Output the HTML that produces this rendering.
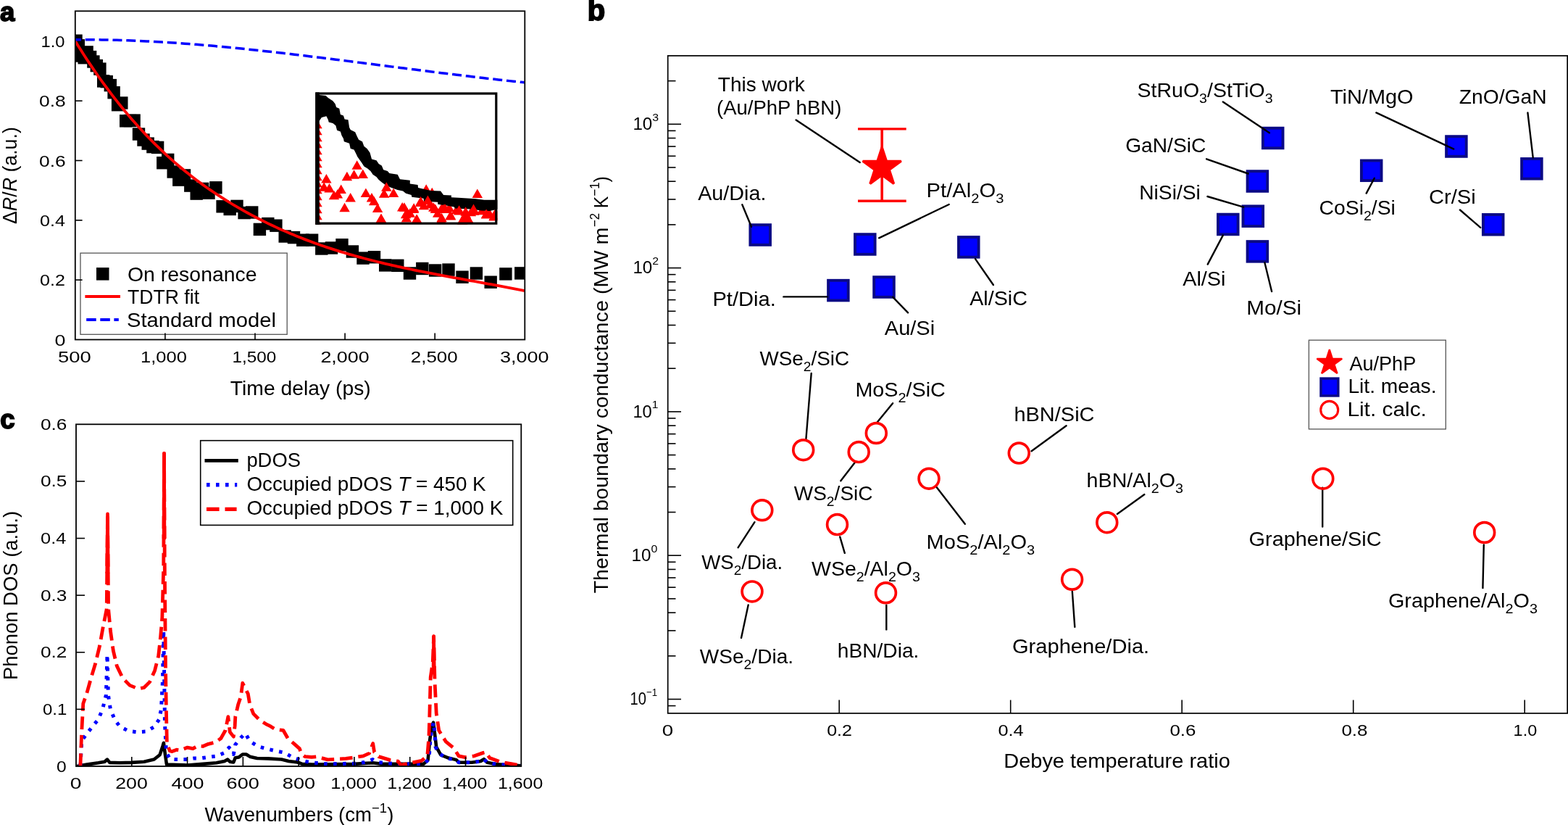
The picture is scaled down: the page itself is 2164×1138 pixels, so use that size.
<!DOCTYPE html>
<html><head><meta charset="utf-8"><title>Figure</title>
<style>html,body{margin:0;padding:0;background:#fff;}svg{display:block;}</style></head>
<body>
<svg width="2164" height="1138" viewBox="0 0 2164 1138" font-family='"Liberation Sans", Arial, sans-serif'>
<rect x="0" y="0" width="2164" height="1138" fill="#fff"/>
<clipPath id="clipA"><rect x="103.8" y="15.3" width="620.5" height="453.2"/></clipPath>
<g clip-path="url(#clipA)" fill="#000">
<rect x="96.3" y="47.5" width="17.4" height="17.4"/>
<rect x="99.6" y="54.1" width="17.4" height="17.4"/>
<rect x="101.8" y="68.3" width="17.4" height="17.4"/>
<rect x="107.5" y="71" width="17.4" height="17.4"/>
<rect x="111.4" y="63.2" width="17.4" height="17.4"/>
<rect x="115.9" y="69.9" width="17.4" height="17.4"/>
<rect x="120.2" y="76.3" width="17.4" height="17.4"/>
<rect x="124.6" y="81.9" width="17.4" height="17.4"/>
<rect x="129.2" y="86.4" width="17.4" height="17.4"/>
<rect x="134" y="103.2" width="17.4" height="17.4"/>
<rect x="138.5" y="103.9" width="17.4" height="17.4"/>
<rect x="143.6" y="108.9" width="17.4" height="17.4"/>
<rect x="148.4" y="119" width="17.4" height="17.4"/>
<rect x="153.9" y="136" width="17.4" height="17.4"/>
<rect x="159.1" y="133.3" width="17.4" height="17.4"/>
<rect x="165" y="158.1" width="17.4" height="17.4"/>
<rect x="176.4" y="157.4" width="17.4" height="17.4"/>
<rect x="170.8" y="157.8" width="17.4" height="17.4"/>
<rect x="182.8" y="176.3" width="17.4" height="17.4"/>
<rect x="189.3" y="184.3" width="17.4" height="17.4"/>
<rect x="195.5" y="189.4" width="17.4" height="17.4"/>
<rect x="202.2" y="193.9" width="17.4" height="17.4"/>
<rect x="208.9" y="194.7" width="17.4" height="17.4"/>
<rect x="216.1" y="216" width="17.4" height="17.4"/>
<rect x="223" y="211.7" width="17.4" height="17.4"/>
<rect x="230.5" y="228.3" width="17.4" height="17.4"/>
<rect x="238.1" y="239.4" width="17.4" height="17.4"/>
<rect x="245.8" y="233.2" width="17.4" height="17.4"/>
<rect x="254.1" y="247.4" width="17.4" height="17.4"/>
<rect x="262.5" y="258.4" width="17.4" height="17.4"/>
<rect x="270.9" y="251.7" width="17.4" height="17.4"/>
<rect x="279.3" y="257.5" width="17.4" height="17.4"/>
<rect x="289.2" y="250.1" width="17.4" height="17.4"/>
<rect x="298.4" y="276.1" width="17.4" height="17.4"/>
<rect x="308.5" y="279.8" width="17.4" height="17.4"/>
<rect x="318.3" y="275.7" width="17.4" height="17.4"/>
<rect x="328.4" y="284.9" width="17.4" height="17.4"/>
<rect x="339" y="284.3" width="17.4" height="17.4"/>
<rect x="349.7" y="307.7" width="17.4" height="17.4"/>
<rect x="361.1" y="299.9" width="17.4" height="17.4"/>
<rect x="372.2" y="302.5" width="17.4" height="17.4"/>
<rect x="384.5" y="317.3" width="17.4" height="17.4"/>
<rect x="396.8" y="318.9" width="17.4" height="17.4"/>
<rect x="409.1" y="322.5" width="17.4" height="17.4"/>
<rect x="421.9" y="322.5" width="17.4" height="17.4"/>
<rect x="435.1" y="334.3" width="17.4" height="17.4"/>
<rect x="448.8" y="333.3" width="17.4" height="17.4"/>
<rect x="463.3" y="329.1" width="17.4" height="17.4"/>
<rect x="477.7" y="338.3" width="17.4" height="17.4"/>
<rect x="492.3" y="347.4" width="17.4" height="17.4"/>
<rect x="507.8" y="346" width="17.4" height="17.4"/>
<rect x="523" y="357.2" width="17.4" height="17.4"/>
<rect x="540.1" y="357.6" width="17.4" height="17.4"/>
<rect x="556.8" y="368.3" width="17.4" height="17.4"/>
<rect x="574.1" y="361.8" width="17.4" height="17.4"/>
<rect x="591.9" y="364.3" width="17.4" height="17.4"/>
<rect x="610.3" y="363.4" width="17.4" height="17.4"/>
<rect x="629.3" y="373.5" width="17.4" height="17.4"/>
<rect x="648.7" y="368.3" width="17.4" height="17.4"/>
<rect x="668.5" y="380.5" width="17.4" height="17.4"/>
<rect x="689.2" y="369.2" width="17.4" height="17.4"/>
<rect x="710.1" y="368.2" width="17.4" height="17.4"/>
<path d="M103.8 56.6 L107.7 62.91 L111.61 69.11 L115.51 75.22 L119.41 81.22 L123.31 87.12 L127.22 92.92 L131.12 98.62 L135.02 104.23 L138.92 109.74 L142.83 115.16 L146.73 120.48 L150.63 125.71 L154.53 130.85 L158.44 135.9 L162.34 140.87 L166.24 145.74 L170.14 150.53 L174.05 155.24 L177.95 159.86 L181.85 164.39 L185.75 168.85 L189.66 173.23 L193.56 177.52 L197.46 181.74 L201.36 185.88 L205.27 189.95 L209.17 193.94 L213.07 197.86 L216.97 201.71 L220.88 205.48 L224.78 209.19 L228.68 212.82 L232.58 216.39 L236.49 219.9 L240.39 223.34 L244.29 226.71 L248.19 230.02 L252.1 233.27 L256 236.46 L259.9 239.59 L263.8 242.67 L267.71 245.68 L271.61 248.64 L275.51 251.55 L279.41 254.4 L283.32 257.2 L287.22 259.95 L291.12 262.65 L295.02 265.3 L298.93 267.9 L302.83 270.46 L306.73 272.97 L310.63 275.44 L314.54 277.87 L318.44 280.25 L322.34 282.59 L326.24 284.9 L330.15 287.16 L334.05 289.39 L337.95 291.58 L341.85 293.74 L345.76 295.86 L349.66 297.94 L353.56 299.99 L357.46 302 L361.37 303.98 L365.27 305.92 L369.17 307.84 L373.07 309.71 L376.98 311.56 L380.88 313.38 L384.78 315.16 L388.68 316.91 L392.59 318.63 L396.49 320.32 L400.39 321.98 L404.29 323.62 L408.2 325.22 L412.1 326.79 L416 328.34 L419.9 329.86 L423.81 331.35 L427.71 332.82 L431.61 334.26 L435.51 335.67 L439.42 337.06 L443.32 338.43 L447.22 339.77 L451.12 341.08 L455.03 342.38 L458.93 343.65 L462.83 344.89 L466.73 346.12 L470.64 347.32 L474.54 348.51 L478.44 349.67 L482.34 350.81 L486.25 351.93 L490.15 353.04 L494.05 354.12 L497.95 355.19 L501.86 356.23 L505.76 357.26 L509.66 358.28 L513.56 359.28 L517.47 360.26 L521.37 361.22 L525.27 362.17 L529.17 363.11 L533.08 364.03 L536.98 364.94 L540.88 365.83 L544.78 366.71 L548.69 367.58 L552.59 368.44 L556.49 369.28 L560.39 370.12 L564.3 370.94 L568.2 371.75 L572.1 372.56 L576 373.35 L579.91 374.14 L583.81 374.91 L587.71 375.68 L591.61 376.44 L595.52 377.2 L599.42 377.95 L603.32 378.69 L607.22 379.43 L611.13 380.16 L615.03 380.88 L618.93 381.61 L622.83 382.33 L626.74 383.04 L630.64 383.75 L634.54 384.46 L638.44 385.17 L642.35 385.88 L646.25 386.58 L650.15 387.29 L654.05 387.99 L657.96 388.7 L661.86 389.4 L665.76 390.11 L669.66 390.82 L673.57 391.53 L677.47 392.24 L681.37 392.96 L685.27 393.68 L689.18 394.4 L693.08 395.13 L696.98 395.86 L700.88 396.6 L704.79 397.34 L708.69 398.09 L712.59 398.85 L716.49 399.61 L720.4 400.38 L724.3 401.16" fill="none" stroke="#ff0000" stroke-width="3.8"/>
<path d="M103.8 54.8 L109.01 54.76 L114.23 54.74 L119.44 54.73 L124.66 54.75 L129.87 54.78 L135.09 54.83 L140.3 54.89 L145.51 54.98 L150.73 55.08 L155.94 55.19 L161.16 55.32 L166.37 55.47 L171.59 55.63 L176.8 55.81 L182.01 56 L187.23 56.21 L192.44 56.44 L197.66 56.67 L202.87 56.92 L208.09 57.19 L213.3 57.47 L218.51 57.76 L223.73 58.06 L228.94 58.38 L234.16 58.71 L239.37 59.05 L244.59 59.41 L249.8 59.78 L255.01 60.16 L260.23 60.55 L265.44 60.95 L270.66 61.36 L275.87 61.78 L281.09 62.22 L286.3 62.66 L291.51 63.11 L296.73 63.58 L301.94 64.05 L307.16 64.53 L312.37 65.03 L317.59 65.53 L322.8 66.03 L328.01 66.55 L333.23 67.08 L338.44 67.61 L343.66 68.15 L348.87 68.7 L354.09 69.26 L359.3 69.82 L364.51 70.39 L369.73 70.96 L374.94 71.55 L380.16 72.13 L385.37 72.73 L390.59 73.33 L395.8 73.93 L401.01 74.54 L406.23 75.16 L411.44 75.77 L416.66 76.4 L421.87 77.02 L427.09 77.65 L432.3 78.29 L437.51 78.93 L442.73 79.57 L447.94 80.21 L453.16 80.86 L458.37 81.51 L463.59 82.16 L468.8 82.82 L474.01 83.47 L479.23 84.13 L484.44 84.79 L489.66 85.45 L494.87 86.12 L500.09 86.78 L505.3 87.45 L510.51 88.11 L515.73 88.78 L520.94 89.45 L526.16 90.11 L531.37 90.78 L536.59 91.45 L541.8 92.12 L547.01 92.78 L552.23 93.45 L557.44 94.11 L562.66 94.78 L567.87 95.44 L573.09 96.1 L578.3 96.76 L583.51 97.42 L588.73 98.08 L593.94 98.73 L599.16 99.38 L604.37 100.03 L609.59 100.68 L614.8 101.32 L620.01 101.96 L625.23 102.6 L630.44 103.23 L635.66 103.86 L640.87 104.49 L646.09 105.11 L651.3 105.73 L656.51 106.34 L661.73 106.95 L666.94 107.55 L672.16 108.15 L677.37 108.74 L682.59 109.33 L687.8 109.91 L693.01 110.49 L698.23 111.06 L703.44 111.63 L708.66 112.19 L713.87 112.74 L719.09 113.28 L724.3 113.82" fill="none" stroke="#0000ff" stroke-width="3.5" stroke-dasharray="13 5.85" stroke-dashoffset="4.9"/>
</g>
<clipPath id="clipI"><rect x="435.5" y="127.4" width="250.9" height="182.4"/></clipPath>
<g clip-path="url(#clipI)">
<path d="M588.2 254.2L581 266.7L595.4 266.7Z" fill="#ff0000"/>
<path d="M596.3 258.7L589.1 271.2L603.5 271.2Z" fill="#ff0000"/>
<path d="M620 279.7L612.8 292.2L627.2 292.2Z" fill="#ff0000"/>
<path d="M665 283.7L657.8 296.2L672.2 296.2Z" fill="#ff0000"/>
<path d="M675 286.7L667.8 299.2L682.2 299.2Z" fill="#ff0000"/>
<path d="M610 279.7L602.8 292.2L617.2 292.2Z" fill="#ff0000"/>
<path d="M630 282.7L622.8 295.2L637.2 295.2Z" fill="#ff0000"/>
<path d="M650 285.7L642.8 298.2L657.2 298.2Z" fill="#ff0000"/>
<path d="M684 286.7L676.8 299.2L691.2 299.2Z" fill="#ff0000"/>
<path d="M594 274.7L586.8 287.2L601.2 287.2Z" fill="#ff0000"/>
<path d="M585 276.7L577.8 289.2L592.2 289.2Z" fill="#ff0000"/>
<path d="M436 129 L440.7 131.1 L449.6 131.9 L452.9 135.1 L459.4 139.2 L462.6 143.2 L464.2 148.1 L468.3 149.7 L469.9 157.9 L474 159.5 L475.6 164.4 L480.5 165.2 L482.1 175.7 L483.7 179 L490.2 182.2 L492.7 187.9 L495.1 192.8 L500 195.2 L502.4 201.7 L506.5 205 L510.6 210.7 L513 219.6 L519.5 221.2 L522.7 226.1 L526.8 228.6 L529.2 234.2 L534.9 235.9 L537.4 239.1 L548.7 240.7 L552 247.2 L565.8 248.7 L565.8 253.6 L576.6 255.1 L577.1 259 L594.4 263 L608.1 263.5 L612.1 268.9 L622.9 269.4 L622.9 272.3 L632.7 272.8 L656.3 274.3 L668.2 275.8 L687 275.8 L687 288.6 L676 291 L664.2 290.5 L650.4 288.6 L627.8 287.6 L626.8 285.6 L616 283.6 L604.2 281.7 L604.2 278.7 L585 277.7 L584.5 273.8 L568.3 271.8 L567.8 268.9 L560.1 266.7 L556.1 263.5 L548.7 261.9 L539 258.6 L532.5 255.4 L527.6 252.1 L522.7 248.1 L519.5 244 L514.6 240.7 L511.4 235.9 L507.3 232.6 L502.4 229.4 L499.2 224.5 L493.5 216.4 L491.1 211.5 L488.6 206.6 L483.7 205 L482.1 197.7 L474.8 195.2 L474 191.2 L471.6 187.1 L469.9 181.4 L465.1 179.8 L463.4 173.3 L459.4 170.1 L453.7 168.4 L452.9 165.2 L450.4 160.3 L443.9 161.9 L440.7 166.8 L436 168Z" fill="#000"/>
<path d="M450.4 239.9L443.2 252.4L457.6 252.4Z" fill="#ff0000"/>
<path d="M447.2 251.3L440 263.8L454.4 263.8Z" fill="#ff0000"/>
<path d="M454.5 252.9L447.3 265.4L461.7 265.4Z" fill="#ff0000"/>
<path d="M461 262.7L453.8 275.2L468.2 275.2Z" fill="#ff0000"/>
<path d="M470.7 254.6L463.5 267.1L477.9 267.1Z" fill="#ff0000"/>
<path d="M465.9 261.1L458.7 273.6L473.1 273.6Z" fill="#ff0000"/>
<path d="M483.7 265.9L476.5 278.4L490.9 278.4Z" fill="#ff0000"/>
<path d="M475.6 279.8L468.4 292.3L482.8 292.3Z" fill="#ff0000"/>
<path d="M478.9 236.7L471.7 249.2L486.1 249.2Z" fill="#ff0000"/>
<path d="M488.6 234.3L481.4 246.8L495.8 246.8Z" fill="#ff0000"/>
<path d="M492.7 221.3L485.5 233.8L499.9 233.8Z" fill="#ff0000"/>
<path d="M500.8 233.4L493.6 245.9L508 245.9Z" fill="#ff0000"/>
<path d="M504.9 259.4L497.7 271.9L512.1 271.9Z" fill="#ff0000"/>
<path d="M513 265.9L505.8 278.4L520.2 278.4Z" fill="#ff0000"/>
<path d="M516.2 270.8L509 283.3L523.4 283.3Z" fill="#ff0000"/>
<path d="M521.1 280.6L513.9 293.1L528.3 293.1Z" fill="#ff0000"/>
<path d="M526 294.4L518.8 306.9L533.2 306.9Z" fill="#ff0000"/>
<path d="M530.1 260.3L522.9 272.8L537.3 272.8Z" fill="#ff0000"/>
<path d="M533.3 251.3L526.1 263.8L540.5 263.8Z" fill="#ff0000"/>
<path d="M543.1 259.4L535.9 271.9L550.3 271.9Z" fill="#ff0000"/>
<path d="M555.2 278.9L548 291.4L562.4 291.4Z" fill="#ff0000"/>
<path d="M560.1 288.7L552.9 301.2L567.3 301.2Z" fill="#ff0000"/>
<path d="M562.1 286.7L554.9 299.2L569.3 299.2Z" fill="#ff0000"/>
<path d="M570.9 281.4L563.7 293.9L578.1 293.9Z" fill="#ff0000"/>
<path d="M575.3 295.5L568.1 308L582.5 308Z" fill="#ff0000"/>
<path d="M580.6 270.9L573.4 283.4L587.8 283.4Z" fill="#ff0000"/>
<path d="M600.8 281.4L593.6 293.9L608 293.9Z" fill="#ff0000"/>
<path d="M609.6 293.7L602.4 306.2L616.8 306.2Z" fill="#ff0000"/>
<path d="M614.8 281.4L607.6 293.9L622 293.9Z" fill="#ff0000"/>
<path d="M621.9 290.2L614.7 302.7L629.1 302.7Z" fill="#ff0000"/>
<path d="M633.3 284.1L626.1 296.6L640.5 296.6Z" fill="#ff0000"/>
<path d="M642.9 288.5L635.7 301L650.1 301Z" fill="#ff0000"/>
<path d="M646.5 295.5L639.3 308L653.7 308Z" fill="#ff0000"/>
<path d="M658.8 260.6L651.6 273.1L666 273.1Z" fill="#ff0000"/>
<path d="M653.5 281.4L646.3 293.9L660.7 293.9Z" fill="#ff0000"/>
<path d="M671.1 288.5L663.9 301L678.3 301Z" fill="#ff0000"/>
<path d="M681.6 292L674.4 304.5L688.8 304.5Z" fill="#ff0000"/>
<path d="M637.7 297.3L630.5 309.8L644.9 309.8Z" fill="#ff0000"/>
<path d="M558 279.3L550.8 291.8L565.2 291.8Z" fill="#ff0000"/>
<path d="M571.2 280.3L564 292.8L578.4 292.8Z" fill="#ff0000"/>
<path d="M580.6 272.4L573.4 284.9L587.8 284.9Z" fill="#ff0000"/>
<path d="M598.3 279.3L591.1 291.8L605.5 291.8Z" fill="#ff0000"/>
<path d="M604.2 287.2L597 299.7L611.4 299.7Z" fill="#ff0000"/>
<path d="M613 281.3L605.8 293.8L620.2 293.8Z" fill="#ff0000"/>
<path d="M621.9 291.1L614.7 303.6L629.1 303.6Z" fill="#ff0000"/>
<path d="M633.7 283.2L626.5 295.7L640.9 295.7Z" fill="#ff0000"/>
<path d="M642.6 285.2L635.4 297.7L649.8 297.7Z" fill="#ff0000"/>
<path d="M643.6 295L636.4 307.5L650.8 307.5Z" fill="#ff0000"/>
<path d="M654.4 284.2L647.2 296.7L661.6 296.7Z" fill="#ff0000"/>
<path d="M671.1 289.1L663.9 301.6L678.3 301.6Z" fill="#ff0000"/>
<path d="M681.9 291.1L674.7 303.6L689.1 303.6Z" fill="#ff0000"/>
<path d="M560.9 294L553.7 306.5L568.1 306.5Z" fill="#ff0000"/>
<path d="M574.7 296L567.5 308.5L581.9 308.5Z" fill="#ff0000"/>
<path d="M609.1 296L601.9 308.5L616.3 308.5Z" fill="#ff0000"/>
<path d="M638.6 297L631.4 309.5L645.8 309.5Z" fill="#ff0000"/>
<path d="M565.8 287.2L558.6 299.7L573 299.7Z" fill="#ff0000"/>
<path d="M590.4 269.4L583.2 281.9L597.6 281.9Z" fill="#ff0000"/>
<path d="M437.5 164.7L430.3 177.2L444.7 177.2Z" fill="#ff0000"/>
<path d="M437.5 173.7L430.3 186.2L444.7 186.2Z" fill="#ff0000"/>
<path d="M437.5 182.7L430.3 195.2L444.7 195.2Z" fill="#ff0000"/>
<path d="M437.5 191.7L430.3 204.2L444.7 204.2Z" fill="#ff0000"/>
<path d="M437.5 200.7L430.3 213.2L444.7 213.2Z" fill="#ff0000"/>
<path d="M437.5 209.7L430.3 222.2L444.7 222.2Z" fill="#ff0000"/>
<path d="M437.5 218.7L430.3 231.2L444.7 231.2Z" fill="#ff0000"/>
<path d="M437.5 227.7L430.3 240.2L444.7 240.2Z" fill="#ff0000"/>
<path d="M437.5 236.7L430.3 249.2L444.7 249.2Z" fill="#ff0000"/>
<path d="M437.5 245.7L430.3 258.2L444.7 258.2Z" fill="#ff0000"/>
<path d="M437.5 254.7L430.3 267.2L444.7 267.2Z" fill="#ff0000"/>
<path d="M437.5 263.7L430.3 276.2L444.7 276.2Z" fill="#ff0000"/>
<path d="M437.5 272.7L430.3 285.2L444.7 285.2Z" fill="#ff0000"/>
<path d="M437.5 281.7L430.3 294.2L444.7 294.2Z" fill="#ff0000"/>
<path d="M437.5 290.7L430.3 303.2L444.7 303.2Z" fill="#ff0000"/>
<path d="M437.5 299.7L430.3 312.2L444.7 312.2Z" fill="#ff0000"/>
</g>
<rect x="437.1" y="129" width="247.7" height="179.2" fill="none" stroke="#000" stroke-width="3.2"/>
<rect x="435.2" y="127.4" width="5.6" height="182.4" fill="#000"/>
<rect x="103.8" y="15.3" width="620.5" height="453.2" fill="none" stroke="#000" stroke-width="1.8"/>
<rect x="111" y="349.1" width="285.2" height="112.2" fill="#fff" stroke="#555" stroke-width="1.3"/>
<line x1="103.8" y1="386.16" x2="113.6" y2="386.16" stroke="#000" stroke-width="1.6"/>
<line x1="103.8" y1="303.82" x2="113.6" y2="303.82" stroke="#000" stroke-width="1.6"/>
<line x1="103.8" y1="221.48" x2="113.6" y2="221.48" stroke="#000" stroke-width="1.6"/>
<line x1="103.8" y1="139.14" x2="113.6" y2="139.14" stroke="#000" stroke-width="1.6"/>
<line x1="227.9" y1="468.5" x2="227.9" y2="459.5" stroke="#000" stroke-width="1.6"/>
<line x1="352" y1="468.5" x2="352" y2="459.5" stroke="#000" stroke-width="1.6"/>
<line x1="476.1" y1="468.5" x2="476.1" y2="459.5" stroke="#000" stroke-width="1.6"/>
<line x1="600.2" y1="468.5" x2="600.2" y2="459.5" stroke="#000" stroke-width="1.6"/>
<rect x="133" y="369.1" width="17.5" height="17.5" fill="#000"/>
<line x1="117.4" y1="409" x2="166" y2="409" stroke="#ff0000" stroke-width="3.8"/>
<line x1="119.2" y1="441" x2="163.8" y2="441" stroke="#0000ff" stroke-width="3.8" stroke-dasharray="13.5 5.6"/>
<text id="T0" x="176" y="387.6" font-size="27.6" textLength="178.6" lengthAdjust="spacingAndGlyphs">On resonance</text>
<text id="T1" x="176" y="418.6" font-size="27.6" textLength="99.09" lengthAdjust="spacingAndGlyphs">TDTR fit</text>
<text id="T2" x="175" y="451" font-size="27.6" textLength="206.03" lengthAdjust="spacingAndGlyphs">Standard model</text>
<text id="T3" x="75.6" y="476.7" font-size="22.8" textLength="14.96" lengthAdjust="spacingAndGlyphs">0</text>
<text id="T4" x="55" y="394.36" font-size="22.8" textLength="34.86" lengthAdjust="spacingAndGlyphs">0.2</text>
<text id="T5" x="55" y="312.02" font-size="22.8" textLength="34.89" lengthAdjust="spacingAndGlyphs">0.4</text>
<text id="T6" x="54" y="229.68" font-size="22.8" textLength="36.67" lengthAdjust="spacingAndGlyphs">0.6</text>
<text id="T7" x="54" y="147.34" font-size="22.8" textLength="36.67" lengthAdjust="spacingAndGlyphs">0.8</text>
<text id="T8" x="56.6" y="65" font-size="22.8" textLength="32.96" lengthAdjust="spacingAndGlyphs">1.0</text>
<text id="T9" x="80" y="500.1" font-size="22.8" textLength="45.78" lengthAdjust="spacingAndGlyphs">500</text>
<text id="T10" x="194" y="500.1" font-size="22.8" textLength="63.88" lengthAdjust="spacingAndGlyphs">1,000</text>
<text id="T11" x="320.4" y="500.1" font-size="22.8" textLength="60.8" lengthAdjust="spacingAndGlyphs">1,500</text>
<text id="T12" x="442.4" y="500.1" font-size="22.8" textLength="67.27" lengthAdjust="spacingAndGlyphs">2,000</text>
<text id="T13" x="566.8" y="500.1" font-size="22.8" textLength="64.85" lengthAdjust="spacingAndGlyphs">2,500</text>
<text id="T14" x="690" y="500.1" font-size="22.8" textLength="67.64" lengthAdjust="spacingAndGlyphs">3,000</text>
<text id="T15" x="317.8" y="545" font-size="27.6" textLength="193.98" lengthAdjust="spacingAndGlyphs">Time delay (ps)</text>
<text id="T16" x="22.8" y="309" font-size="27.6" textLength="133.86" lengthAdjust="spacingAndGlyphs" transform="rotate(-90 22.8 309)">Δ<tspan font-style="italic">R</tspan>/<tspan font-style="italic">R</tspan> (a.u.)</text>
<text x="0" y="29.3" font-size="36.5" font-weight="bold" style="stroke:#000;stroke-width:1.8">a</text>
<clipPath id="clipC"><rect x="105" y="580.3" width="614.3" height="476.7"/></clipPath>
<g clip-path="url(#clipC)" fill="none" stroke-linejoin="round">
<path d="M106.15 1057 L119.78 1054.64 L135.6 1052.28 L144.51 1050.71 L148 1047.57 L151.42 1051.89 L165.2 1052.28 L181.6 1051.89 L198.8 1050.71 L212.62 1047.57 L220.57 1041.28 L224.48 1029.48 L225.9 1024.77 L227.48 1037.35 L230.01 1054.64 L258.57 1055.43 L279.88 1053.86 L298.62 1052.28 L309.91 1049.92 L314.21 1047.57 L317.32 1050.71 L322.31 1051.5 L324.8 1045.21 L329.8 1044.42 L334.82 1040.49 L339.78 1040.49 L344.81 1043.64 L354.79 1045.99 L369.92 1046.39 L388.5 1047.57 L398.41 1049.92 L410.88 1051.5 L417.1 1053.86 L431.35 1054.64 L488.94 1053.86 L514.66 1052.28 L527.33 1053.86 L584.54 1053.86 L590.6 1048.35 L593.29 1020.05 L595.98 1001.97 L598.09 996.7 L599.86 1010.85 L602.2 1030.27 L608.38 1041.28 L618.98 1045.52 L629.69 1048.12 L633.18 1051.73 L650.96 1051.73 L663.4 1049.92 L667.85 1047.17 L672.31 1051.73 L686.51 1054.41 L719.3 1056.21" stroke="#000" stroke-width="4.6"/>
<path d="M110.91 1057 L112.79 1021.62 L119.78 1012.19 L127.73 1001.97 L135.6 992.53 L141.51 978.38 L146.39 958.73 L148 902.91 L149.38 958.73 L152.42 978.38 L158.29 992.53 L165.2 1001.97 L177.1 1008.26 L188.89 1009.83 L201.79 1009.04 L212.62 1002.75 L219.57 992.53 L222.48 978.38 L224.48 939.07 L225.67 869.89 L226.48 918.63 L227.48 998.04 L229.4 1037.35 L234.39 1046.78 L242.49 1047.57 L256.19 1047.57 L267.41 1045.99 L276.2 1045.99 L287.41 1044.42 L299.23 1042.85 L310.48 1038.13 L316.13 1031.06 L322.31 1040.49 L324.8 1027.13 L332.33 1017.69 L338.51 1011.4 L344.81 1022.41 L355.98 1029.48 L367.23 1032.63 L379.71 1035.77 L392.19 1038.13 L403.4 1044.42 L414.68 1048.35 L427.09 1051.5 L452.31 1053.86 L489.32 1053.07 L503.14 1051.5 L514.28 1047.57 L521.69 1051.5 L549.22 1053.86 L584.54 1053.86 L591.91 1047.57 L593.79 1022.41 L595.6 1007.47 L598.4 996.47 L600.16 1012.19 L601.09 1030.27 L604.81 1038.13 L614.1 1044.66 L620.01 1046.47 L629.69 1048.12 L633.18 1051.73 L650.96 1051.73 L663.4 1049.92 L667.85 1047.17 L672.31 1051.73 L686.51 1054.41 L719.3 1056.21" stroke="#0000ff" stroke-width="5" stroke-dasharray="4.6 8.4"/>
<path d="M110.91 1057 L112.79 1008.26 L114.79 970.52 L119.78 956.37 L125.69 935.14 L131.61 915.49 L137.52 891.12 L142.47 863.6 L147.23 840.02 L148.5 708.73 L149.61 840.02 L152.42 869.89 L156.29 897.41 L161.29 918.63 L169.19 935.14 L179.1 945.36 L190.93 950.08 L198.8 948.51 L206.71 940.65 L213.62 924.92 L218.61 905.27 L221.53 879.33 L223.83 851.81 L225.75 781.84 L226.52 625.39 L227.28 781.84 L228.47 918.63 L229.4 978.38 L230.39 1025.55 L234.39 1035.77 L237.5 1036.56 L243.72 1034.2 L248.71 1034.99 L258.69 1031.06 L266.22 1032.63 L273.01 1028.7 L279.88 1029.48 L287.41 1026.34 L297.39 1023.98 L304.88 1018.48 L311.1 1007.47 L314.82 988.6 L317.32 1009.83 L322.31 1016.12 L324.19 1001.18 L324.8 988.6 L328.61 972.09 L332.33 961.09 L334.82 942.22 L342.31 957.16 L344.81 972.09 L349.8 984.67 L358.51 993.32 L367.23 998.82 L373.49 1001.97 L379.71 1005.9 L391 1007.47 L397.21 1018.48 L407.2 1027.13 L413.42 1032.63 L415.91 1039.7 L420.9 1043.64 L430 1044.42 L436.61 1043.79 L452.31 1047.88 L477.3 1046.47 L501.3 1042.85 L509.59 1039.15 L514.7 1025.55 L516.58 1037.35 L522.61 1043.64 L538.27 1048.35 L549.41 1050.24 L553.13 1055.43 L564.19 1053.07 L581.7 1049.3 L589.76 1042.85 L591.91 1016.91 L592.79 989.39 L594.21 934.36 L597.28 913.13 L598.63 877.75 L600.01 939.86 L602.2 983.89 L605.69 1007.47 L615.48 1023.19 L626.12 1031.84 L633.18 1042.85 L642.09 1044.58 L654.49 1042.85 L667.01 1038.37 L670.5 1037.5 L675.8 1045.52 L690.01 1050.79 L704.21 1053.46 L719.3 1056.21" stroke="#ff0000" stroke-width="4.8" stroke-dasharray="17.6 7.9"/>
<path d="M147.69 789.7 L148.5 708.73 L149.23 789.7" stroke="#ff0000" stroke-width="4.6" stroke-linecap="round"/>
<path d="M226.06 742.53 L226.52 625.39 L226.98 742.53" stroke="#ff0000" stroke-width="4.6" stroke-linecap="round"/>
<path d="M598.09 919.42 L598.63 877.75 L599.24 919.42" stroke="#ff0000" stroke-width="4.6" stroke-linecap="round"/>
</g>
<rect x="105" y="585.3" width="614.3" height="471.7" fill="none" stroke="#000" stroke-width="1.8"/>
<line x1="105" y1="978.38" x2="117" y2="978.38" stroke="#000" stroke-width="1.6"/>
<line x1="105" y1="899.77" x2="117" y2="899.77" stroke="#000" stroke-width="1.6"/>
<line x1="105" y1="821.15" x2="117" y2="821.15" stroke="#000" stroke-width="1.6"/>
<line x1="105" y1="742.53" x2="117" y2="742.53" stroke="#000" stroke-width="1.6"/>
<line x1="105" y1="663.92" x2="117" y2="663.92" stroke="#000" stroke-width="1.6"/>
<line x1="181.79" y1="1057" x2="181.79" y2="1044" stroke="#000" stroke-width="1.6"/>
<line x1="258.57" y1="1057" x2="258.57" y2="1044" stroke="#000" stroke-width="1.6"/>
<line x1="335.36" y1="1057" x2="335.36" y2="1044" stroke="#000" stroke-width="1.6"/>
<line x1="412.15" y1="1057" x2="412.15" y2="1044" stroke="#000" stroke-width="1.6"/>
<line x1="488.94" y1="1057" x2="488.94" y2="1044" stroke="#000" stroke-width="1.6"/>
<line x1="565.73" y1="1057" x2="565.73" y2="1044" stroke="#000" stroke-width="1.6"/>
<line x1="642.51" y1="1057" x2="642.51" y2="1044" stroke="#000" stroke-width="1.6"/>
<text id="T17" x="78" y="1064.5" font-size="22.8" textLength="13.72" lengthAdjust="spacingAndGlyphs">0</text>
<text id="T18" x="59" y="985.88" font-size="22.8" textLength="33.37" lengthAdjust="spacingAndGlyphs">0.1</text>
<text id="T19" x="56" y="907.27" font-size="22.8" textLength="36.43" lengthAdjust="spacingAndGlyphs">0.2</text>
<text id="T20" x="56" y="828.65" font-size="22.8" textLength="36.43" lengthAdjust="spacingAndGlyphs">0.3</text>
<text id="T21" x="56" y="750.03" font-size="22.8" textLength="35.36" lengthAdjust="spacingAndGlyphs">0.4</text>
<text id="T22" x="56" y="671.42" font-size="22.8" textLength="36.43" lengthAdjust="spacingAndGlyphs">0.5</text>
<text id="T23" x="56" y="592.8" font-size="22.8" textLength="36.43" lengthAdjust="spacingAndGlyphs">0.6</text>
<text id="T24" x="96.8" y="1088" font-size="22.8" textLength="15.69" lengthAdjust="spacingAndGlyphs">0</text>
<text id="T25" x="159.2" y="1088" font-size="22.8" textLength="44.58" lengthAdjust="spacingAndGlyphs">200</text>
<text id="T26" x="236.4" y="1088" font-size="22.8" textLength="45" lengthAdjust="spacingAndGlyphs">400</text>
<text id="T27" x="312.6" y="1088" font-size="22.8" textLength="45.25" lengthAdjust="spacingAndGlyphs">600</text>
<text id="T28" x="389.8" y="1088" font-size="22.8" textLength="45.25" lengthAdjust="spacingAndGlyphs">800</text>
<text id="T29" x="456.2" y="1088" font-size="22.8" textLength="63.73" lengthAdjust="spacingAndGlyphs">1,000</text>
<text id="T30" x="534.6" y="1088" font-size="22.8" textLength="61.02" lengthAdjust="spacingAndGlyphs">1,200</text>
<text id="T31" x="610.2" y="1088" font-size="22.8" textLength="62.27" lengthAdjust="spacingAndGlyphs">1,400</text>
<text id="T32" x="687" y="1088" font-size="22.8" textLength="62.24" lengthAdjust="spacingAndGlyphs">1,600</text>
<text id="T33" x="282.6" y="1133.4" font-size="27.6" textLength="260.76" lengthAdjust="spacingAndGlyphs">Wavenumbers (cm<tspan dy="-12.2" font-size="18.5">−1</tspan><tspan dy="12.2">)</tspan></text>
<text id="T34" x="24" y="938" font-size="27.6" textLength="233.12" lengthAdjust="spacingAndGlyphs" transform="rotate(-90 24 938)">Phonon DOS (a.u.)</text>
<rect x="276.7" y="607.7" width="431" height="116.7" fill="#fff" stroke="#000" stroke-width="1.6"/>
<line x1="282.5" y1="635.4" x2="328.8" y2="635.4" stroke="#000" stroke-width="4.8"/>
<line x1="285" y1="668.8" x2="327.2" y2="668.8" stroke="#0000ff" stroke-width="5.4" stroke-dasharray="4.6 8.4"/>
<line x1="285" y1="702.3" x2="326.6" y2="702.3" stroke="#ff0000" stroke-width="5.2" stroke-dasharray="17.6 7.9"/>
<text id="T35" x="340.4" y="643.7" font-size="27.6" textLength="74.55" lengthAdjust="spacingAndGlyphs">pDOS</text>
<text id="T36" x="340.4" y="676.5" font-size="27.6" textLength="330.29" lengthAdjust="spacingAndGlyphs">Occupied pDOS <tspan font-style="italic">T</tspan> = 450 K</text>
<text id="T37" x="340.4" y="710.2" font-size="27.6" textLength="353.99" lengthAdjust="spacingAndGlyphs">Occupied pDOS <tspan font-style="italic">T</tspan> = 1,000 K</text>
<text x="0.2" y="590.6" font-size="36.5" font-weight="bold" style="stroke:#000;stroke-width:1.8">c</text>
<rect x="921.7" y="76.9" width="1241.5" height="907" fill="none" stroke="#000" stroke-width="1.7"/>
<line x1="921.7" y1="973.57" x2="932.5" y2="973.57" stroke="#000" stroke-width="1.6"/>
<line x1="921.7" y1="964.5" x2="940" y2="964.5" stroke="#000" stroke-width="1.6"/>
<line x1="921.7" y1="904.81" x2="932.5" y2="904.81" stroke="#000" stroke-width="1.6"/>
<line x1="921.7" y1="869.89" x2="932.5" y2="869.89" stroke="#000" stroke-width="1.6"/>
<line x1="921.7" y1="845.11" x2="932.5" y2="845.11" stroke="#000" stroke-width="1.6"/>
<line x1="921.7" y1="825.89" x2="932.5" y2="825.89" stroke="#000" stroke-width="1.6"/>
<line x1="921.7" y1="810.19" x2="932.5" y2="810.19" stroke="#000" stroke-width="1.6"/>
<line x1="921.7" y1="796.92" x2="932.5" y2="796.92" stroke="#000" stroke-width="1.6"/>
<line x1="921.7" y1="785.42" x2="932.5" y2="785.42" stroke="#000" stroke-width="1.6"/>
<line x1="921.7" y1="775.27" x2="932.5" y2="775.27" stroke="#000" stroke-width="1.6"/>
<line x1="921.7" y1="766.2" x2="940" y2="766.2" stroke="#000" stroke-width="1.6"/>
<line x1="921.7" y1="706.51" x2="932.5" y2="706.51" stroke="#000" stroke-width="1.6"/>
<line x1="921.7" y1="671.59" x2="932.5" y2="671.59" stroke="#000" stroke-width="1.6"/>
<line x1="921.7" y1="646.81" x2="932.5" y2="646.81" stroke="#000" stroke-width="1.6"/>
<line x1="921.7" y1="627.59" x2="932.5" y2="627.59" stroke="#000" stroke-width="1.6"/>
<line x1="921.7" y1="611.89" x2="932.5" y2="611.89" stroke="#000" stroke-width="1.6"/>
<line x1="921.7" y1="598.62" x2="932.5" y2="598.62" stroke="#000" stroke-width="1.6"/>
<line x1="921.7" y1="587.12" x2="932.5" y2="587.12" stroke="#000" stroke-width="1.6"/>
<line x1="921.7" y1="576.97" x2="932.5" y2="576.97" stroke="#000" stroke-width="1.6"/>
<line x1="921.7" y1="567.9" x2="940" y2="567.9" stroke="#000" stroke-width="1.6"/>
<line x1="921.7" y1="508.21" x2="932.5" y2="508.21" stroke="#000" stroke-width="1.6"/>
<line x1="921.7" y1="473.29" x2="932.5" y2="473.29" stroke="#000" stroke-width="1.6"/>
<line x1="921.7" y1="448.51" x2="932.5" y2="448.51" stroke="#000" stroke-width="1.6"/>
<line x1="921.7" y1="429.29" x2="932.5" y2="429.29" stroke="#000" stroke-width="1.6"/>
<line x1="921.7" y1="413.59" x2="932.5" y2="413.59" stroke="#000" stroke-width="1.6"/>
<line x1="921.7" y1="400.32" x2="932.5" y2="400.32" stroke="#000" stroke-width="1.6"/>
<line x1="921.7" y1="388.82" x2="932.5" y2="388.82" stroke="#000" stroke-width="1.6"/>
<line x1="921.7" y1="378.67" x2="932.5" y2="378.67" stroke="#000" stroke-width="1.6"/>
<line x1="921.7" y1="369.6" x2="940" y2="369.6" stroke="#000" stroke-width="1.6"/>
<line x1="921.7" y1="309.91" x2="932.5" y2="309.91" stroke="#000" stroke-width="1.6"/>
<line x1="921.7" y1="274.99" x2="932.5" y2="274.99" stroke="#000" stroke-width="1.6"/>
<line x1="921.7" y1="250.21" x2="932.5" y2="250.21" stroke="#000" stroke-width="1.6"/>
<line x1="921.7" y1="230.99" x2="932.5" y2="230.99" stroke="#000" stroke-width="1.6"/>
<line x1="921.7" y1="215.29" x2="932.5" y2="215.29" stroke="#000" stroke-width="1.6"/>
<line x1="921.7" y1="202.02" x2="932.5" y2="202.02" stroke="#000" stroke-width="1.6"/>
<line x1="921.7" y1="190.52" x2="932.5" y2="190.52" stroke="#000" stroke-width="1.6"/>
<line x1="921.7" y1="180.37" x2="932.5" y2="180.37" stroke="#000" stroke-width="1.6"/>
<line x1="921.7" y1="171.3" x2="940" y2="171.3" stroke="#000" stroke-width="1.6"/>
<line x1="921.7" y1="111.61" x2="932.5" y2="111.61" stroke="#000" stroke-width="1.6"/>
<line x1="1158.2" y1="983.9" x2="1158.2" y2="965.6" stroke="#000" stroke-width="1.6"/>
<line x1="1394.7" y1="983.9" x2="1394.7" y2="965.6" stroke="#000" stroke-width="1.6"/>
<line x1="1631.2" y1="983.9" x2="1631.2" y2="965.6" stroke="#000" stroke-width="1.6"/>
<line x1="1867.7" y1="983.9" x2="1867.7" y2="965.6" stroke="#000" stroke-width="1.6"/>
<line x1="2104.2" y1="983.9" x2="2104.2" y2="965.6" stroke="#000" stroke-width="1.6"/>
<text id="T38" x="869.4" y="972.3" font-size="23.2" textLength="37.61" lengthAdjust="spacingAndGlyphs">10<tspan dy="-12.3" font-size="15.2">−1</tspan></text>
<text id="T39" x="871.6" y="774" font-size="23.2" textLength="35.84" lengthAdjust="spacingAndGlyphs">10<tspan dy="-12.3" font-size="15.2">0</tspan></text>
<text id="T40" x="873.4" y="575.7" font-size="23.2" textLength="35.14" lengthAdjust="spacingAndGlyphs">10<tspan dy="-12.3" font-size="15.2">1</tspan></text>
<text id="T41" x="873.4" y="377.4" font-size="23.2" textLength="35.77" lengthAdjust="spacingAndGlyphs">10<tspan dy="-12.3" font-size="15.2">2</tspan></text>
<text id="T42" x="873.4" y="179.1" font-size="23.2" textLength="35.77" lengthAdjust="spacingAndGlyphs">10<tspan dy="-12.3" font-size="15.2">3</tspan></text>
<text id="T43" x="913.8" y="1014.8" font-size="22.8" textLength="15.43" lengthAdjust="spacingAndGlyphs">0</text>
<text id="T44" x="1141.2" y="1014.8" font-size="22.8" textLength="34.79" lengthAdjust="spacingAndGlyphs">0.2</text>
<text id="T45" x="1377.4" y="1014.8" font-size="22.8" textLength="35.24" lengthAdjust="spacingAndGlyphs">0.4</text>
<text id="T46" x="1614.4" y="1014.8" font-size="22.8" textLength="36.06" lengthAdjust="spacingAndGlyphs">0.6</text>
<text id="T47" x="1851.4" y="1014.8" font-size="22.8" textLength="36.06" lengthAdjust="spacingAndGlyphs">0.8</text>
<text id="T48" x="2088.6" y="1014.8" font-size="22.8" textLength="32.6" lengthAdjust="spacingAndGlyphs">1.0</text>
<text id="T49" x="1385.2" y="1058.6" font-size="27.6" textLength="312.67" lengthAdjust="spacingAndGlyphs">Debye temperature ratio</text>
<text id="T50" x="839.4" y="818.5" font-size="28.5" textLength="505.01" lengthAdjust="spacingAndGlyphs" transform="rotate(-90 839.4 818.5)">Thermal boundary conductance (MW m</text>
<text id="T51" x="839.4" y="313" font-size="28.5" textLength="69.69" lengthAdjust="spacingAndGlyphs" transform="rotate(-90 839.4 313)"><tspan dy="-12.8" font-size="19">−2</tspan><tspan dy="12.8"> K</tspan><tspan dy="-12.8" font-size="19">−1</tspan><tspan dy="12.8">)</tspan></text>
<text x="810.7" y="28.2" font-size="40" font-weight="bold" style="stroke:#000;stroke-width:1.8">b</text>
<line x1="1217.2" y1="177.9" x2="1217.2" y2="277.3" stroke="#ff0000" stroke-width="3.6"/>
<line x1="1184" y1="177.9" x2="1250.7" y2="177.9" stroke="#ff0000" stroke-width="3.4"/>
<line x1="1184" y1="277.3" x2="1250.7" y2="277.3" stroke="#ff0000" stroke-width="3.4"/>
<path d="M1217.2 203 L1223.46 222.28 L1243.73 222.28 L1227.34 234.19 L1233.6 253.47 L1217.2 241.56 L1200.8 253.47 L1207.06 234.19 L1190.67 222.28 L1210.94 222.28Z" fill="#ff0000" stroke="#ff0000" stroke-width="3.2" stroke-linejoin="bevel"/>
<rect x="1035.4" y="310.2" width="27.6" height="27.6" fill="#0000ff" stroke="#0b0a85" stroke-width="3.9"/>
<rect x="1180" y="323.2" width="27.6" height="27.6" fill="#0000ff" stroke="#0b0a85" stroke-width="3.9"/>
<rect x="1323" y="327.1" width="27.6" height="27.6" fill="#0000ff" stroke="#0b0a85" stroke-width="3.9"/>
<rect x="1143.1" y="386.8" width="27.6" height="27.6" fill="#0000ff" stroke="#0b0a85" stroke-width="3.9"/>
<rect x="1206.2" y="382.2" width="27.6" height="27.6" fill="#0000ff" stroke="#0b0a85" stroke-width="3.9"/>
<rect x="1742.9" y="176.7" width="27.6" height="27.6" fill="#0000ff" stroke="#0b0a85" stroke-width="3.9"/>
<rect x="1721.6" y="236.2" width="27.6" height="27.6" fill="#0000ff" stroke="#0b0a85" stroke-width="3.9"/>
<rect x="1715.5" y="284.4" width="27.6" height="27.6" fill="#0000ff" stroke="#0b0a85" stroke-width="3.9"/>
<rect x="1681" y="295.7" width="27.6" height="27.6" fill="#0000ff" stroke="#0b0a85" stroke-width="3.9"/>
<rect x="1721.6" y="333.1" width="27.6" height="27.6" fill="#0000ff" stroke="#0b0a85" stroke-width="3.9"/>
<rect x="1996.1" y="188.2" width="27.6" height="27.6" fill="#0000ff" stroke="#0b0a85" stroke-width="3.9"/>
<rect x="2100.1" y="219" width="27.6" height="27.6" fill="#0000ff" stroke="#0b0a85" stroke-width="3.9"/>
<rect x="1878.9" y="221.5" width="27.6" height="27.6" fill="#0000ff" stroke="#0b0a85" stroke-width="3.9"/>
<rect x="2046.9" y="296" width="27.6" height="27.6" fill="#0000ff" stroke="#0b0a85" stroke-width="3.9"/>
<line x1="1098.6" y1="165.5" x2="1186.7" y2="224" stroke="#000" stroke-width="2.4" stroke-linecap="round"/>
<line x1="1024.3" y1="282.3" x2="1037" y2="312.8" stroke="#000" stroke-width="2.4" stroke-linecap="round"/>
<line x1="1213.1" y1="328.3" x2="1309.7" y2="282" stroke="#000" stroke-width="2.4" stroke-linecap="round"/>
<line x1="1346" y1="357.1" x2="1370.9" y2="393" stroke="#000" stroke-width="2.4" stroke-linecap="round"/>
<line x1="1081.4" y1="409.4" x2="1141.5" y2="409.4" stroke="#000" stroke-width="2.4" stroke-linecap="round"/>
<line x1="1232.3" y1="409.8" x2="1253.1" y2="431.3" stroke="#000" stroke-width="2.4" stroke-linecap="round"/>
<line x1="1687.8" y1="140.4" x2="1751.9" y2="183.3" stroke="#000" stroke-width="2.4" stroke-linecap="round"/>
<line x1="1665.1" y1="219.3" x2="1722.6" y2="239.5" stroke="#000" stroke-width="2.4" stroke-linecap="round"/>
<line x1="1666.4" y1="271" x2="1716.1" y2="285.6" stroke="#000" stroke-width="2.4" stroke-linecap="round"/>
<line x1="1687.8" y1="324.6" x2="1666.7" y2="364.6" stroke="#000" stroke-width="2.4" stroke-linecap="round"/>
<line x1="1745.4" y1="362.3" x2="1755.1" y2="402" stroke="#000" stroke-width="2.4" stroke-linecap="round"/>
<line x1="1899.3" y1="155.4" x2="2006.3" y2="205.6" stroke="#000" stroke-width="2.4" stroke-linecap="round"/>
<line x1="2108.4" y1="155.4" x2="2115.7" y2="217.4" stroke="#000" stroke-width="2.4" stroke-linecap="round"/>
<line x1="1896.8" y1="245.7" x2="1885.7" y2="266.6" stroke="#000" stroke-width="2.4" stroke-linecap="round"/>
<line x1="2014.9" y1="289.5" x2="2043.2" y2="313.9" stroke="#000" stroke-width="2.4" stroke-linecap="round"/>
<line x1="1119.7" y1="515" x2="1112.4" y2="605.7" stroke="#000" stroke-width="2.4" stroke-linecap="round"/>
<line x1="1210.6" y1="582.5" x2="1232.1" y2="556.3" stroke="#000" stroke-width="2.4" stroke-linecap="round"/>
<line x1="1179.8" y1="638" x2="1160.3" y2="663.3" stroke="#000" stroke-width="2.4" stroke-linecap="round"/>
<line x1="1423.6" y1="622.2" x2="1471.6" y2="587.3" stroke="#000" stroke-width="2.4" stroke-linecap="round"/>
<line x1="1291.6" y1="670.7" x2="1331.8" y2="722.7" stroke="#000" stroke-width="2.4" stroke-linecap="round"/>
<line x1="1541.9" y1="709" x2="1579.4" y2="682.1" stroke="#000" stroke-width="2.4" stroke-linecap="round"/>
<line x1="1041.5" y1="720.2" x2="1018.6" y2="755.3" stroke="#000" stroke-width="2.4" stroke-linecap="round"/>
<line x1="1159.2" y1="740.4" x2="1165.8" y2="762.8" stroke="#000" stroke-width="2.4" stroke-linecap="round"/>
<line x1="1032.7" y1="834.4" x2="1023" y2="879.9" stroke="#000" stroke-width="2.4" stroke-linecap="round"/>
<line x1="1223.3" y1="834.8" x2="1223.3" y2="868.4" stroke="#000" stroke-width="2.4" stroke-linecap="round"/>
<line x1="1479.8" y1="815.5" x2="1483.3" y2="864.8" stroke="#000" stroke-width="2.4" stroke-linecap="round"/>
<line x1="1825.2" y1="672.7" x2="1825.2" y2="726.5" stroke="#000" stroke-width="2.4" stroke-linecap="round"/>
<line x1="2047.8" y1="751.4" x2="2046.4" y2="811.1" stroke="#000" stroke-width="2.4" stroke-linecap="round"/>
<circle cx="1108.7" cy="620.7" r="13.9" fill="none" stroke="#ff0000" stroke-width="3.7"/>
<circle cx="1209.3" cy="597.5" r="13.9" fill="none" stroke="#ff0000" stroke-width="3.7"/>
<circle cx="1185.2" cy="623.6" r="13.9" fill="none" stroke="#ff0000" stroke-width="3.7"/>
<circle cx="1406.3" cy="625.1" r="13.9" fill="none" stroke="#ff0000" stroke-width="3.7"/>
<circle cx="1282" cy="660.2" r="13.9" fill="none" stroke="#ff0000" stroke-width="3.7"/>
<circle cx="1527.8" cy="720.7" r="13.9" fill="none" stroke="#ff0000" stroke-width="3.7"/>
<circle cx="1051.8" cy="703.8" r="13.9" fill="none" stroke="#ff0000" stroke-width="3.7"/>
<circle cx="1155.5" cy="723.6" r="13.9" fill="none" stroke="#ff0000" stroke-width="3.7"/>
<circle cx="1038" cy="815.9" r="13.9" fill="none" stroke="#ff0000" stroke-width="3.7"/>
<circle cx="1222.5" cy="817.8" r="13.9" fill="none" stroke="#ff0000" stroke-width="3.7"/>
<circle cx="1479.6" cy="799.3" r="13.9" fill="none" stroke="#ff0000" stroke-width="3.7"/>
<circle cx="1825.8" cy="660.2" r="13.9" fill="none" stroke="#ff0000" stroke-width="3.7"/>
<circle cx="2048.7" cy="734.5" r="13.9" fill="none" stroke="#ff0000" stroke-width="3.7"/>
<text id="T52" x="990.8" y="126" font-size="27.6" textLength="119.94" lengthAdjust="spacingAndGlyphs">This work</text>
<text id="T53" x="989" y="158.1" font-size="27.6" textLength="172.31" lengthAdjust="spacingAndGlyphs">(Au/PhP hBN)</text>
<text id="T54" x="963.2" y="275.8" font-size="27.6" textLength="94.25" lengthAdjust="spacingAndGlyphs">Au/Dia.</text>
<text id="T55" x="1278.6" y="271.9" font-size="27.6" textLength="106.73" lengthAdjust="spacingAndGlyphs">Pt/Al<tspan dy="8" font-size="19">2</tspan><tspan dy="-8">O</tspan><tspan dy="8" font-size="19">3</tspan></text>
<text id="T56" x="1338.2" y="421.4" font-size="27.6" textLength="79.8" lengthAdjust="spacingAndGlyphs">Al/SiC</text>
<text id="T57" x="983.4" y="422.1" font-size="27.6" textLength="87.46" lengthAdjust="spacingAndGlyphs">Pt/Dia.</text>
<text id="T58" x="1220.8" y="462.3" font-size="27.6" textLength="69.35" lengthAdjust="spacingAndGlyphs">Au/Si</text>
<text id="T59" x="1569.6" y="133.9" font-size="27.6" textLength="186.97" lengthAdjust="spacingAndGlyphs">StRuO<tspan dy="8" font-size="19">3</tspan><tspan dy="-8">/StTiO</tspan><tspan dy="8" font-size="19">3</tspan></text>
<text id="T60" x="1553.2" y="209.6" font-size="27.6" textLength="111.13" lengthAdjust="spacingAndGlyphs">GaN/SiC</text>
<text id="T61" x="1572.2" y="274.6" font-size="27.6" textLength="84.68" lengthAdjust="spacingAndGlyphs">NiSi/Si</text>
<text id="T62" x="1632.2" y="393.9" font-size="27.6" textLength="59.33" lengthAdjust="spacingAndGlyphs">Al/Si</text>
<text id="T63" x="1720.2" y="433.8" font-size="27.6" textLength="75.99" lengthAdjust="spacingAndGlyphs">Mo/Si</text>
<text id="T64" x="1836" y="143.2" font-size="27.6" textLength="114.48" lengthAdjust="spacingAndGlyphs">TiN/MgO</text>
<text id="T65" x="2013.8" y="143.2" font-size="27.6" textLength="120.89" lengthAdjust="spacingAndGlyphs">ZnO/GaN</text>
<text id="T66" x="1820.6" y="296.2" font-size="27.6" textLength="105.29" lengthAdjust="spacingAndGlyphs">CoSi<tspan dy="8" font-size="19">2</tspan><tspan dy="-8">/Si</tspan></text>
<text id="T67" x="1972" y="281.4" font-size="27.6" textLength="64.74" lengthAdjust="spacingAndGlyphs">Cr/Si</text>
<text id="T68" x="1048.4" y="504" font-size="27.6" textLength="123.67" lengthAdjust="spacingAndGlyphs">WSe<tspan dy="8" font-size="19">2</tspan><tspan dy="-8">/SiC</tspan></text>
<text id="T69" x="1180.4" y="547.3" font-size="27.6" textLength="124.44" lengthAdjust="spacingAndGlyphs">MoS<tspan dy="8" font-size="19">2</tspan><tspan dy="-8">/SiC</tspan></text>
<text id="T70" x="1095.8" y="690.3" font-size="27.6" textLength="108.7" lengthAdjust="spacingAndGlyphs">WS<tspan dy="8" font-size="19">2</tspan><tspan dy="-8">/SiC</tspan></text>
<text id="T71" x="1399.4" y="581.1" font-size="27.6" textLength="111.14" lengthAdjust="spacingAndGlyphs">hBN/SiC</text>
<text id="T72" x="1278.6" y="756.5" font-size="27.6" textLength="149.65" lengthAdjust="spacingAndGlyphs">MoS<tspan dy="8" font-size="19">2</tspan><tspan dy="-8">/Al</tspan><tspan dy="8" font-size="19">2</tspan><tspan dy="-8">O</tspan><tspan dy="8" font-size="19">3</tspan></text>
<text id="T73" x="1499.6" y="672" font-size="27.6" textLength="133.41" lengthAdjust="spacingAndGlyphs">hBN/Al<tspan dy="8" font-size="19">2</tspan><tspan dy="-8">O</tspan><tspan dy="8" font-size="19">3</tspan></text>
<text id="T74" x="968.2" y="785" font-size="27.6" textLength="111.97" lengthAdjust="spacingAndGlyphs">WS<tspan dy="8" font-size="19">2</tspan><tspan dy="-8">/Dia.</tspan></text>
<text id="T75" x="1120" y="793.8" font-size="27.6" textLength="149.91" lengthAdjust="spacingAndGlyphs">WSe<tspan dy="8" font-size="19">2</tspan><tspan dy="-8">/Al</tspan><tspan dy="8" font-size="19">2</tspan><tspan dy="-8">O</tspan><tspan dy="8" font-size="19">3</tspan></text>
<text id="T76" x="965.8" y="915" font-size="27.6" textLength="129.27" lengthAdjust="spacingAndGlyphs">WSe<tspan dy="8" font-size="19">2</tspan><tspan dy="-8">/Dia.</tspan></text>
<text id="T77" x="1155.8" y="907.3" font-size="27.6" textLength="112.58" lengthAdjust="spacingAndGlyphs">hBN/Dia.</text>
<text id="T78" x="1397" y="901.3" font-size="27.6" textLength="189.18" lengthAdjust="spacingAndGlyphs">Graphene/Dia.</text>
<text id="T79" x="1723.6" y="752.5" font-size="27.6" textLength="182.94" lengthAdjust="spacingAndGlyphs">Graphene/SiC</text>
<text id="T80" x="1916" y="837.5" font-size="27.6" textLength="205.92" lengthAdjust="spacingAndGlyphs">Graphene/Al<tspan dy="8" font-size="19">2</tspan><tspan dy="-8">O</tspan><tspan dy="8" font-size="19">3</tspan></text>
<rect x="1806.4" y="469.2" width="188.9" height="122.7" fill="#fff" stroke="#555" stroke-width="1.3"/>
<path d="M1834.8 482.1 L1838.91 494.74 L1852.2 494.74 L1841.45 502.56 L1845.56 515.21 L1834.8 507.39 L1824.04 515.21 L1828.15 502.56 L1817.4 494.74 L1830.69 494.74Z" fill="#ff0000" stroke="#ff0000" stroke-width="2.2" stroke-linejoin="bevel"/>
<rect x="1822.95" y="522.05" width="23.9" height="23.9" fill="#0000ff" stroke="#0b0a85" stroke-width="3.4"/>
<circle cx="1834.7" cy="565.4" r="12" fill="none" stroke="#ff0000" stroke-width="3.1"/>
<text id="T81" x="1862.4" y="510.7" font-size="27.6" textLength="91.82" lengthAdjust="spacingAndGlyphs">Au/PhP</text>
<text id="T82" x="1860.4" y="541.8" font-size="27.6" textLength="122.12" lengthAdjust="spacingAndGlyphs">Lit. meas.</text>
<text id="T83" x="1859.4" y="573.8" font-size="27.6" textLength="109.5" lengthAdjust="spacingAndGlyphs">Lit. calc.</text>
</svg>
</body></html>
